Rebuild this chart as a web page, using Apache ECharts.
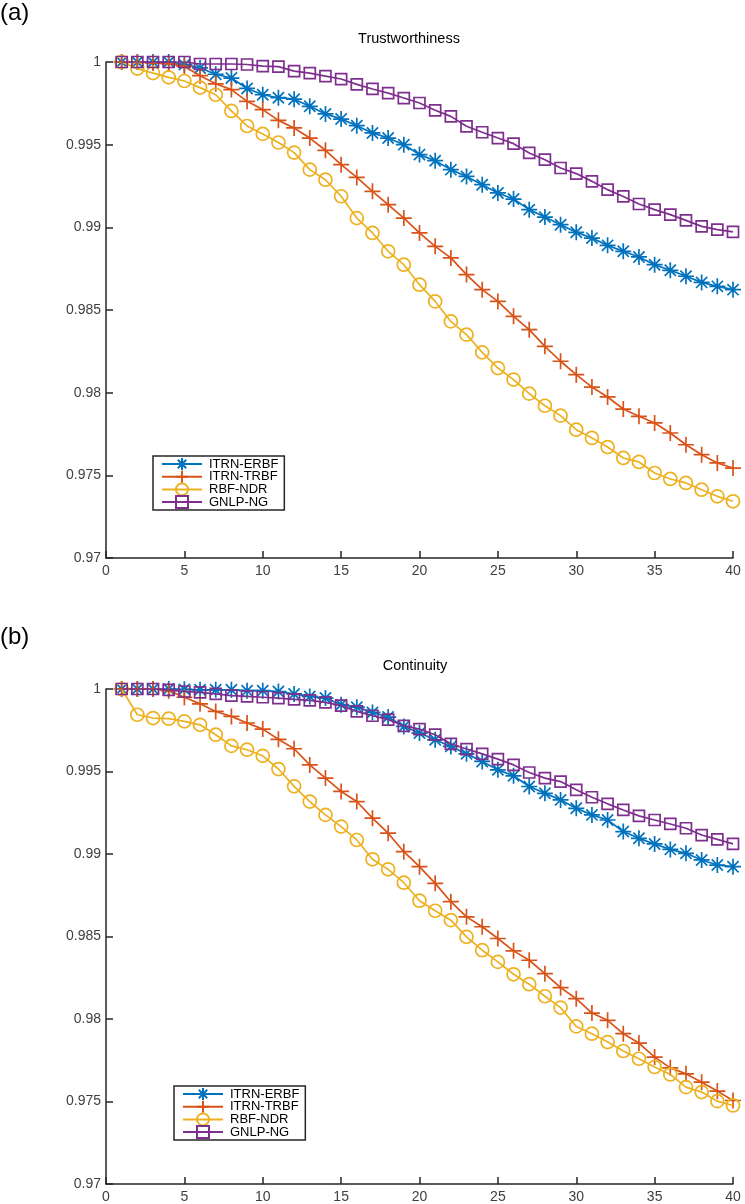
<!DOCTYPE html>
<html>
<head>
<meta charset="utf-8">
<script src="https://cdn.jsdelivr.net/npm/echarts@6/dist/echarts.min.js"></script>
<style>
  html, body { margin: 0; padding: 0; background: #fff; }
  #chart { width: 745px; height: 1204px; }
</style>
</head>
<body>
<div id="chart"></div>
<script>
// x positions (neighbourhood size)
const xs = [1,2,3,4,5,6,7,8,9,10,11,12,13,14,15,16,17,18,19,20,
            21,22,23,24,25,26,27,28,29,30,31,32,33,34,35,36,37,38,39,40];
const names = ["ITRN-ERBF", "ITRN-TRBF", "RBF-NDR", "GNLP-NG"];
const yTicks = [0.97, 0.975, 0.98, 0.985, 0.99, 0.995, 1];

// (a) Trustworthiness
const trustErbf = [1,1,1,1,0.99984,0.99964,0.99926,0.99903,0.9984,0.99802,0.99784,0.99775,0.99732,0.99686,0.99655,0.99615,0.99571,0.9954,0.995,0.9944,
  0.99403,0.99349,0.99308,0.99258,0.99208,0.99171,0.99107,0.99062,0.99016,0.9897,0.98935,0.98891,0.98855,0.98821,0.98774,0.9874,0.98704,0.98667,0.98643,0.98623];
const trustTrbf = [1,1,0.99994,0.9999,0.99974,0.99917,0.99868,0.99833,0.99762,0.99712,0.99647,0.99601,0.9954,0.99466,0.99379,0.99302,0.99218,0.99137,0.99056,0.98966,
  0.98885,0.98815,0.98714,0.98623,0.98552,0.98462,0.98381,0.9828,0.9819,0.98109,0.98034,0.97974,0.97901,0.97857,0.97817,0.97756,0.97685,0.97625,0.97575,0.97544];
const trustNdr = [1,0.9996,0.99933,0.99907,0.99885,0.99845,0.99802,0.99704,0.99613,0.99565,0.99513,0.99452,0.99349,0.99288,0.99188,0.99056,0.98966,0.98855,0.98774,0.98653,
  0.98552,0.98431,0.98351,0.98244,0.98149,0.98079,0.97994,0.97921,0.97861,0.97776,0.97726,0.97671,0.97605,0.97581,0.97514,0.97478,0.97454,0.97413,0.97373,0.97343];
const trustNg = [1,1,1,1,1,0.99988,0.99988,0.99988,0.99985,0.99975,0.99972,0.99945,0.99933,0.99915,0.99897,0.99865,0.99837,0.99812,0.99782,0.99752,
  0.99708,0.99671,0.99611,0.99575,0.9954,0.99506,0.9945,0.99409,0.99359,0.99325,0.99278,0.99228,0.99187,0.99141,0.99107,0.99077,0.99042,0.99006,0.98986,0.98972];

// (b) Continuity
const contErbf = [1,1,1,1,0.99998,0.99995,0.99995,0.99995,0.9999,0.9999,0.99985,0.9997,0.99955,0.99945,0.99905,0.9989,0.99858,0.9983,0.99773,0.99733,
  0.99692,0.99652,0.99607,0.99561,0.9951,0.99474,0.99409,0.99368,0.99328,0.99277,0.99237,0.99206,0.99136,0.99095,0.99061,0.99028,0.99004,0.98964,0.98933,0.98923];
const contTrbf = [1,1,1,0.9999,0.9995,0.9991,0.99864,0.99834,0.99794,0.99757,0.99695,0.99638,0.9954,0.9946,0.99379,0.99318,0.99217,0.99126,0.99014,0.98923,
  0.98822,0.98711,0.98619,0.98559,0.98488,0.98413,0.98356,0.98275,0.9819,0.98123,0.98036,0.97992,0.97911,0.97854,0.97769,0.97704,0.97668,0.97617,0.97563,0.97506];
const contNdr = [1,0.99844,0.99824,0.9982,0.99804,0.99783,0.99723,0.99655,0.99632,0.99595,0.99515,0.9941,0.99318,0.99237,0.99166,0.99085,0.98968,0.98907,0.98826,0.98717,
  0.98656,0.98599,0.98498,0.98417,0.98346,0.98271,0.98211,0.98138,0.98069,0.97955,0.97911,0.9786,0.97806,0.97759,0.97709,0.97664,0.97587,0.97557,0.97502,0.97476];
const contNg = [1,1,1,0.99995,0.99985,0.9998,0.9997,0.9996,0.99955,0.9995,0.99945,0.99937,0.99931,0.99919,0.99899,0.99864,0.99838,0.99814,0.99777,0.99757,
  0.99723,0.99668,0.99636,0.99607,0.99575,0.9954,0.99494,0.9946,0.99439,0.99389,0.99344,0.99304,0.99267,0.99231,0.99206,0.99182,0.99156,0.99115,0.99089,0.99061];

const colors = ["#0072BD", "#D95319", "#EDB120", "#7E2F8E"];
// matlab-like markers: asterisk, plus, circle, square
const markers = [
  "path://M0,5L10,5M5,0L5,10M1.5,1.5L8.5,8.5M8.5,1.5L1.5,8.5",
  "path://M0,5L10,5M5,0L5,10",
  "circle",
  "rect"
];
const markerSize = [16, 16, 13, 11];
const font = "Arial, 'Liberation Sans', Helvetica, sans-serif";

function makeSeries(vals, idx, axisIdx) {
  return {
    name: names[idx],
    type: "line",
    xAxisIndex: axisIdx,
    yAxisIndex: axisIdx,
    data: xs.map((x, i) => [x, vals[i]]),
    symbol: markers[idx],
    symbolSize: markerSize[idx],
    symbolKeepAspect: true,
    showAllSymbol: true,
    lineStyle: { color: colors[idx], width: 1.7 },
    itemStyle: { color: "rgba(0,0,0,0)", borderColor: colors[idx], borderWidth: 1.7 },
    emphasis: { disabled: true },
    z: 2 + idx
  };
}

function xAxis(gridIdx) {
  return {
    type: "value", gridIndex: gridIdx, min: 0, max: 40, interval: 5,
    axisLine: { lineStyle: { color: "#262626", width: 1.5 } },
    axisTick: { inside: true, length: 7, lineStyle: { color: "#262626", width: 1.5 } },
    axisLabel: { color: "#404040", fontSize: 14, fontFamily: font, margin: 6 },
    splitLine: { show: false }
  };
}
function yAxis(gridIdx) {
  return {
    type: "value", gridIndex: gridIdx, min: yTicks[0], max: yTicks[yTicks.length - 1], interval: 0.005,
    axisLine: { show: true, lineStyle: { color: "#262626", width: 1.5 } },
    axisTick: { show: true, inside: true, length: 7, lineStyle: { color: "#262626", width: 1.5 } },
    axisLabel: { color: "#404040", fontSize: 14, fontFamily: font, margin: 5 },
    splitLine: { show: false }
  };
}
function legend(left, top) {
  return {
    orient: "vertical", left: left, top: top,
    data: names,
    itemWidth: 40, itemHeight: 15, itemGap: -1.3,
    padding: [1, 6, 1, 8],
    backgroundColor: "#fff",
    borderColor: "#262626", borderWidth: 1.5, borderRadius: 0,
    textStyle: { color: "#000", fontSize: 13, fontFamily: font, padding: [0, 0, 0, 2] },
    selectedMode: false
  };
}

const chart = echarts.init(document.getElementById("chart"), null, { renderer: "canvas" });
chart.setOption({
  animation: false,
  backgroundColor: "#fff",
  grid: [
    { left: 106, width: 627, top: 62, height: 496 },
    { left: 106, width: 627, top: 689, height: 495 }
  ],
  xAxis: [xAxis(0), xAxis(1)],
  yAxis: [yAxis(0), yAxis(1)],
  legend: [legend(153, 456), legend(174, 1086)],
  graphic: [
    { type: "text", left: 0, top: 1, style: { text: "(a)", font: "24px " + font, fill: "#000" } },
    { type: "text", left: 0, top: 625, style: { text: "(b)", font: "24px " + font, fill: "#000" } },
    { type: "text", x: 409, y: 39, style: { text: "Trustworthiness", font: "14.5px " + font, fill: "#000", align: "center", verticalAlign: "middle" } },
    { type: "text", x: 415, y: 666, style: { text: "Continuity", font: "14.5px " + font, fill: "#000", align: "center", verticalAlign: "middle" } }
  ],
  series: [
    makeSeries(trustErbf, 0, 0),
    makeSeries(trustTrbf, 1, 0),
    makeSeries(trustNdr, 2, 0),
    makeSeries(trustNg, 3, 0),
    makeSeries(contErbf, 0, 1),
    makeSeries(contTrbf, 1, 1),
    makeSeries(contNdr, 2, 1),
    makeSeries(contNg, 3, 1)
  ]
});
</script>
</body>
</html>
